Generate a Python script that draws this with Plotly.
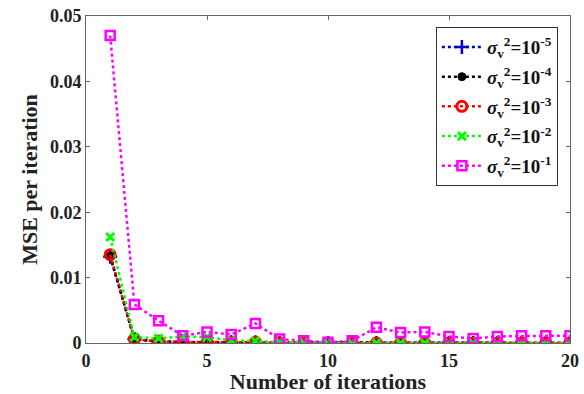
import plotly.graph_objects as go

iterations = list(range(1, 21))
mse_1e5 = [0.0132, 0.0006, 0.0002, 0.0001, 0.0001, 0.0001, 0.0001, 0.0, 0.0, 0.0,
           0.0, 0.0, 0.0, 0.0, 0.0, 0.0, 0.0, 0.0, 0.0, 0.0]
mse_1e4 = [0.0133, 0.0006, 0.0002, 0.0001, 0.0001, 0.0001, 0.0001, 0.0, 0.0, 0.0,
           0.0, 0.0, 0.0, 0.0, 0.0, 0.0, 0.0, 0.0, 0.0, 0.0]
mse_1e3 = [0.0135, 0.0006, 0.0002, 0.0002, 0.0001, 0.0001, 0.0001, 0.0, 0.0, 0.0,
           0.0, 0.0, 0.0, 0.0, 0.0, 0.0, 0.0, 0.0, 0.0, 0.0]
mse_1e2 = [0.0162, 0.0009, 0.0007, 0.0010, 0.0009, 0.0004, 0.0003, 0.0001, 0.0001, 0.0,
           0.0, 0.0, 0.0, 0.0, 0.0, 0.0, 0.0, 0.0, 0.0, 0.0]
mse_1e1 = [0.0470, 0.0059, 0.0034, 0.0011, 0.0017, 0.0013, 0.0030, 0.0006, 0.00035, 0.0001,
           0.00035, 0.0024, 0.0016, 0.0017, 0.0010, 0.0007, 0.0010, 0.0011, 0.0011, 0.0011]

series = [
    ("-5", mse_1e5, "#0000cc", "cross-thin", 10, 2.5),
    ("-4", mse_1e4, "#000000", "circle", 8, 1),
    ("-3", mse_1e3, "#ff0000", "circle-open", 10, 3),
    ("-2", mse_1e2, "#00ff00", "x-thin", 8, 3),
    ("-1", mse_1e1, "#ff00ff", "square-open", 9, 2.5),
]

fig = go.Figure()
for i, (exp, vals, color, sym, size, mlw) in enumerate(series):
    fig.add_trace(go.Scatter(
        x=iterations, y=vals, mode="lines+markers",
        name=f"<i>σ</i><sub>v</sub><sup>2</sup>=10<sup>{exp}</sup>",
        legendgroup=f"g{i}",
        line=dict(color=color, width=2.5, dash="dot"),
        marker=dict(symbol=sym, size=size, color=color,
                    line=dict(color=color, width=mlw)),
    ))

font_fam = "Liberation Serif, Times New Roman, serif"
fig.update_layout(
    width=584, height=394,
    margin=dict(l=86, r=14, t=16, b=51, autoexpand=False),
    paper_bgcolor="white", plot_bgcolor="white",
    font=dict(family=font_fam, color="#222", size=17, weight="bold"),
    showlegend=True,
    legend=dict(x=0.975, y=0.966, xanchor="right", yanchor="top",
                bordercolor="#333", borderwidth=1, bgcolor="white",
                font=dict(size=19, family=font_fam, color="#111", weight="bold"),
                tracegroupgap=2, itemwidth=40),
    xaxis=dict(range=[0, 20], tickvals=[0, 5, 10, 15, 20], showline=True,
               linecolor="#666", linewidth=1, mirror="ticks", ticks="inside",
               ticklen=4, tickcolor="#666", showgrid=False, zeroline=False,
               ticklabelstandoff=1, automargin=False,
               title=dict(text="Number of iterations",
                          font=dict(size=22, weight="bold", color="#222"), standoff=0),
               tickfont=dict(size=18, family=font_fam, weight="bold", color="#222")),
    yaxis=dict(range=[0, 0.05], tickvals=[0, 0.01, 0.02, 0.03, 0.04, 0.05],
               ticktext=["0", "0.01", "0.02", "0.03", "0.04", "0.05"],
               showline=True, linecolor="#666", linewidth=1, mirror="ticks",
               ticks="inside", ticklen=4, tickcolor="#666", showgrid=False,
               zeroline=False, automargin=False,
               title=dict(text="MSE per iteration",
                          font=dict(size=22, weight="bold", color="#222"), standoff=6),
               tickfont=dict(size=18, family=font_fam, weight="bold", color="#222")),
)
fig.write_html("out.html", config={"displayModeBar": False},
               post_script="document.body.style.margin='0';")
